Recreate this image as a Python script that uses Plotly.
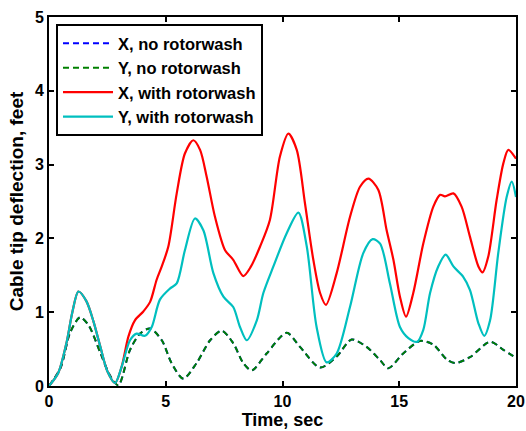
import plotly.graph_objects as go

# X, with rotorwash
t_xw = [0, 0.4, 0.76, 1.0, 1.26, 1.6, 1.9, 2.2, 2.5, 2.83, 3.11, 3.40, 3.68, 4.04, 4.33, 4.61, 4.83,
        5.11, 5.47, 5.82, 6.18, 6.47, 6.75, 7.11, 7.54, 7.89, 8.32, 8.65, 9.04, 9.46, 9.89, 10.25,
        10.61, 10.96, 11.32, 11.61, 11.86, 12.32, 12.89, 13.32, 13.68, 14.1, 14.46, 14.75, 15.03,
        15.29, 15.6, 16.03, 16.46, 16.75, 16.96, 17.32, 17.67, 18.03, 18.39, 18.57, 18.81, 19.17,
        19.46, 19.67, 20.0]
v_xw = [0, 0.18, 0.6, 1.0, 1.28, 1.15, 0.88, 0.53, 0.2, 0.04, 0.26, 0.67, 0.89, 1.01, 1.14, 1.44, 1.62,
        1.89, 2.61, 3.15, 3.33, 3.2, 2.84, 2.29, 1.84, 1.71, 1.49, 1.62, 1.89, 2.25, 3.11, 3.42,
        3.2, 2.48, 1.71, 1.26, 1.10, 1.53, 2.29, 2.70, 2.81, 2.66, 2.11, 1.71, 1.21,
        0.94, 1.26, 1.93, 2.43, 2.59, 2.57, 2.61, 2.43, 2.02, 1.62, 1.54, 1.75, 2.52,
        3.02, 3.2, 3.08]

# Y, with rotorwash
t_yw = [0, 0.4, 0.76, 1.0, 1.26, 1.6, 1.9, 2.2, 2.5, 2.83, 3.11, 3.47, 3.75, 4.11, 4.40, 4.75, 5.18,
        5.47, 5.82, 6.25, 6.61, 7.04, 7.47, 7.89, 8.18, 8.47, 8.9, 9.18, 9.61, 10.18, 10.68, 11.04,
        11.46, 11.89, 12.32, 12.89, 13.46, 13.86, 14.18, 14.6, 15.03, 15.39, 15.77, 16.03, 16.32,
        16.67, 16.99, 17.32, 17.74, 18.03, 18.39, 18.64, 18.89, 19.24, 19.6, 19.82, 20.0]
v_yw = [0, 0.18, 0.6, 1.0, 1.28, 1.15, 0.88, 0.53, 0.2, 0.04, 0.26, 0.62, 0.71, 0.68, 0.80, 1.17, 1.32,
        1.39, 1.84, 2.27, 2.11, 1.53, 1.21, 1.07, 0.80, 0.62, 0.89, 1.26, 1.62, 2.07, 2.35, 1.89,
        0.80, 0.32, 0.44, 1.07, 1.80, 1.99, 1.93, 1.39, 0.80, 0.65, 0.60, 0.76, 1.26,
        1.62, 1.78, 1.62, 1.48, 1.30, 0.85, 0.68, 0.89, 1.80, 2.56, 2.77, 2.56]

# X / Y, no rotorwash (X hidden under Y)
t_no = [0, 0.5, 0.9, 1.33, 1.7, 2.2, 2.6, 2.97, 3.47, 3.9, 4.33, 4.83, 5.25, 5.75, 6.32, 6.9, 7.4,
        7.89, 8.32, 8.68, 9.32, 10.18, 10.75, 11.61, 12.32, 12.96, 13.6, 14.18, 14.53, 15.17,
        15.89, 16.46, 17.03, 17.39, 18.03, 18.89, 19.46, 20.0]
v_yno = [0, 0.25, 0.72, 0.93, 0.82, 0.45, 0.15, 0.01, 0.49, 0.71, 0.78, 0.62, 0.31, 0.10, 0.31, 0.62,
         0.75, 0.58, 0.31, 0.21, 0.44, 0.72, 0.53, 0.25, 0.40, 0.63, 0.53, 0.35, 0.24, 0.44,
         0.61, 0.56, 0.36, 0.31, 0.39, 0.60, 0.49, 0.38]
v_xno = list(v_yno)

x_ticks = [0, 5, 10, 15, 20]
y_ticks = [0, 1, 2, 3, 4, 5]

FONT = "Liberation Sans, Arial, sans-serif"

fig = go.Figure()
fig.add_trace(go.Scatter(x=t_no, y=v_xno, mode="lines", name="X, no rotorwash",
                         line=dict(color="#0000ff", width=2, dash="6px,4px", shape="spline", smoothing=0.8)))
fig.add_trace(go.Scatter(x=t_no, y=v_yno, mode="lines", name="Y, no rotorwash",
                         line=dict(color="#008000", width=2, dash="6px,4px", shape="spline", smoothing=0.8)))
fig.add_trace(go.Scatter(x=t_xw, y=v_xw, mode="lines", name="X, with rotorwash",
                         line=dict(color="#ff0000", width=2.2, shape="spline", smoothing=0.8)))
fig.add_trace(go.Scatter(x=t_yw, y=v_yw, mode="lines", name="Y, with rotorwash",
                         line=dict(color="#00bfbf", width=2.2, shape="spline", smoothing=0.8)))

axis_common = dict(showline=True, linecolor="black", linewidth=2, mirror="ticks",
                   ticks="inside", ticklen=5, tickwidth=1.5, tickcolor="black",
                   showgrid=False, zeroline=False, automargin=False,
                   tickfont=dict(family=FONT, size=16, color="black", weight="bold"))

fig.update_xaxes(range=[0, 20], tickvals=x_ticks,
                 title=dict(text="Time, sec", font=dict(family=FONT, size=18, color="black", weight="bold"), standoff=2),
                 **axis_common)
fig.update_yaxes(range=[0, 5], tickvals=y_ticks,
                 title=dict(text="Cable tip deflection, feet", font=dict(family=FONT, size=19, color="black", weight="bold"), standoff=6),
                 **axis_common)

fig.update_layout(
    width=526, height=431,
    margin=dict(l=49, r=10, t=17, b=45),
    paper_bgcolor="white", plot_bgcolor="white",
    showlegend=True,
    legend=dict(x=0.015, y=0.981, xanchor="left", yanchor="top",
                bgcolor="white", bordercolor="black", borderwidth=2,
                font=dict(family=FONT, size=16.5, color="black", weight="bold"),
                itemwidth=50, traceorder="normal"),
)

fig.write_html("out.html")
